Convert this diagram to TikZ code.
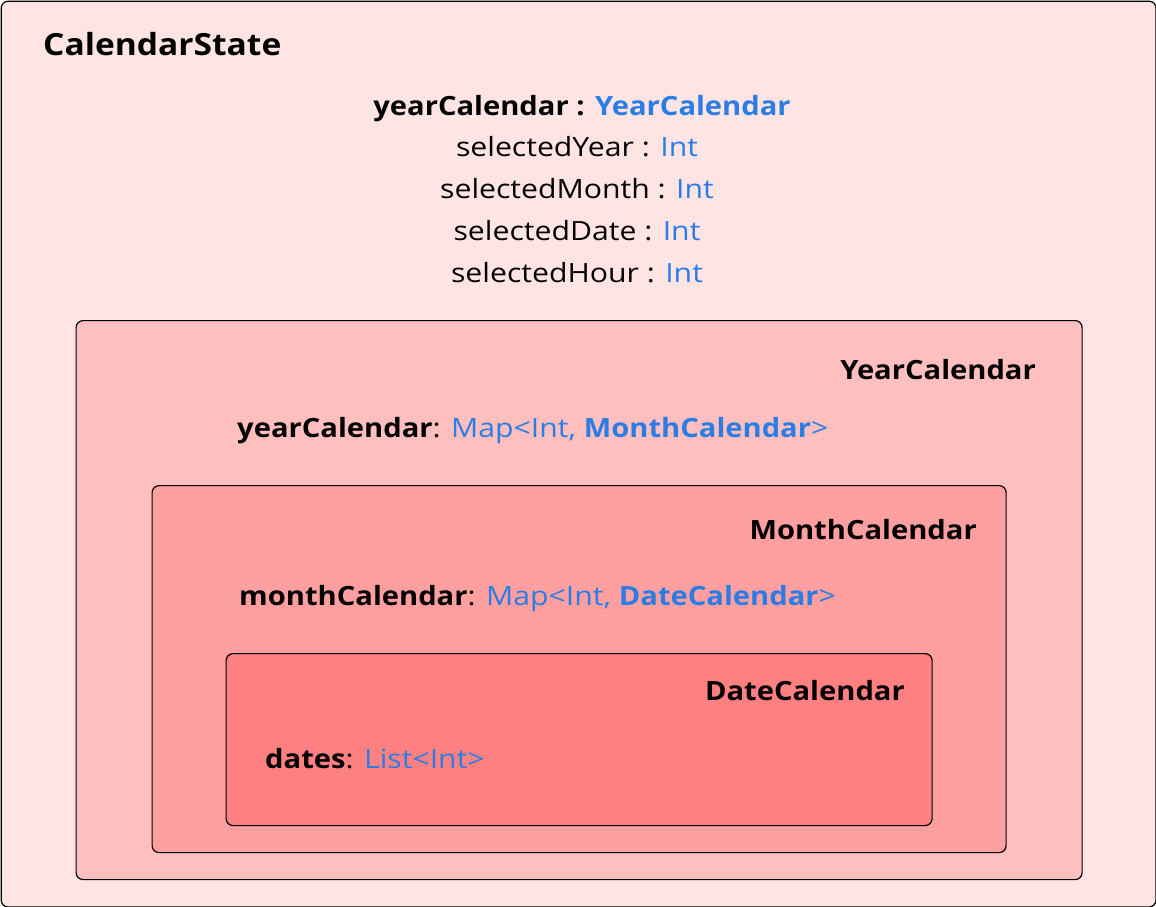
\documentclass[tikz,border=0pt]{standalone}
\usepackage{fontspec}
\setmainfont{Open Sans}[FakeStretch=1.14, BoldFeatures={FakeStretch=1.1}]
\definecolor{outerfill}{HTML}{FFE4E4}
\definecolor{yearfill}{HTML}{FFBFBF}
\definecolor{monthfill}{HTML}{FF9F9F}
\definecolor{datefill}{HTML}{FF8080}
\definecolor{typeblue}{HTML}{2B7DE6}
\tikzset{
  box/.style={draw=black, line width=1.2pt, rounded corners=7pt, anchor=north west, inner sep=0pt},
  txt/.style={inner sep=0pt, font=\fontsize{26.5}{30}\selectfont},
  ttl/.style={inner sep=0pt, font=\fontsize{26.5}{30}\selectfont\bfseries},
}
\newcommand{\ty}[1]{\textcolor{typeblue}{#1}}
\begin{document}
\begin{tikzpicture}[x=1pt,y=-1pt]
\useasboundingbox (0,0) rectangle (1156,907);
\node[box, fill=outerfill, minimum width=1154.8pt, minimum height=905.8pt] (outer) at (0.6,0.6) {};
\node[box, fill=yearfill, minimum width=1006pt, minimum height=559pt] (year) at (75.5,320) {};
\node[box, fill=monthfill, minimum width=854pt, minimum height=367pt] (month) at (151.5,485) {};
\node[box, fill=datefill, minimum width=706pt, minimum height=172pt] (date) at (225.5,653) {};

\node[ttl, anchor=base west, font=\fontsize{30.5}{34}\selectfont\bfseries] (cs) at (43,56) {CalendarState};
\node[txt, anchor=base] (f1) at (582,115) {\textbf{yearCalendar :} \ty{\textbf{YearCalendar}}};
\node[txt, anchor=base] (f2) at (577,156) {selectedYear : \ty{Int}};
\node[txt, anchor=base] (f3) at (577,198) {selectedMonth : \ty{Int}};
\node[txt, anchor=base] (f4) at (577,240) {selectedDate : \ty{Int}};
\node[txt, anchor=base] (f5) at (577,282) {selectedHour : \ty{Int}};

\node[ttl, anchor=base east] (yt) at (1036,379) {YearCalendar};
\node[txt, anchor=base west] (yf) at (237,437) {\textbf{yearCalendar}: \ty{Map<Int, \textbf{MonthCalendar}>}};

\node[ttl, anchor=base east] (mt) at (977,539) {MonthCalendar};
\node[txt, anchor=base west] (mf) at (239,605) {\textbf{monthCalendar}: \ty{Map<Int, \textbf{DateCalendar}>}};

\node[ttl, anchor=base east] (dt) at (905,700) {DateCalendar};
\node[txt, anchor=base west] (df) at (265,768) {\textbf{dates}: \ty{List<Int>}};
\end{tikzpicture}
\end{document}
